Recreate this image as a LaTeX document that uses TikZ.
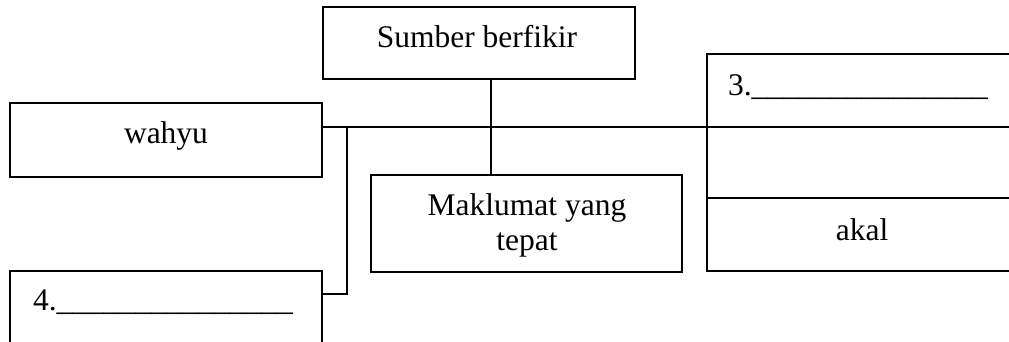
\documentclass[tikz,border=0pt]{standalone}
\usepackage{fontspec}
\setmainfont{Liberation Serif}
\begin{document}
\begin{tikzpicture}[x=1pt,y=-1pt, line width=2pt,
 box/.style={draw, rectangle, inner sep=0pt, outer sep=0pt},
 txt/.style={anchor=base, inner sep=0pt, font=\fontsize{31.5}{35}\selectfont}]
\useasboundingbox (0,0) rectangle (1009,341);
\clip (0,0) rectangle (1009,341);
\node[box, minimum width=312pt, minimum height=72pt] (top) at (478.5,42.5) {};
\node[box, minimum width=312pt, minimum height=74pt] (wahyu) at (166,140) {};
\node[box, minimum width=311pt, minimum height=97pt] (mak) at (526.5,223.5) {};
\node[box, minimum width=330pt, minimum height=217pt] (rbox) at (872,162.5) {};
\node[box, minimum width=312pt, minimum height=90pt] (four) at (166,316) {};
\node[txt] (ttop) at (477,47) {Sumber berfikir};
\node[txt] (twahyu) at (166,143) {wahyu};
\node[txt, align=center] (tmak) at (527,250) {Maklumat yang\\tepat};
\node[txt, anchor=base west] (t3) at (727,95) {3.\_\_\_\_\_\_\_\_\_\_\_\_\_\_\_};
\node[txt, anchor=base west] (t4) at (32,310) {4.\_\_\_\_\_\_\_\_\_\_\_\_\_\_\_};
\node[txt] (takal) at (862,240) {akal};
\coordinate (jl) at (347,127);
\coordinate (jm) at (491,127);
\coordinate (jb) at (347,294);
\coordinate (ak) at (707,198);
\draw (wahyu.east |- jl) -- (rbox.east |- jl);
\draw (jl) -- (jb) -- (four.east |- jb);
\draw (top.south -| jm) -- (mak.north -| jm);
\draw (rbox.west |- ak) -- (rbox.east |- ak);
\end{tikzpicture}
\end{document}
